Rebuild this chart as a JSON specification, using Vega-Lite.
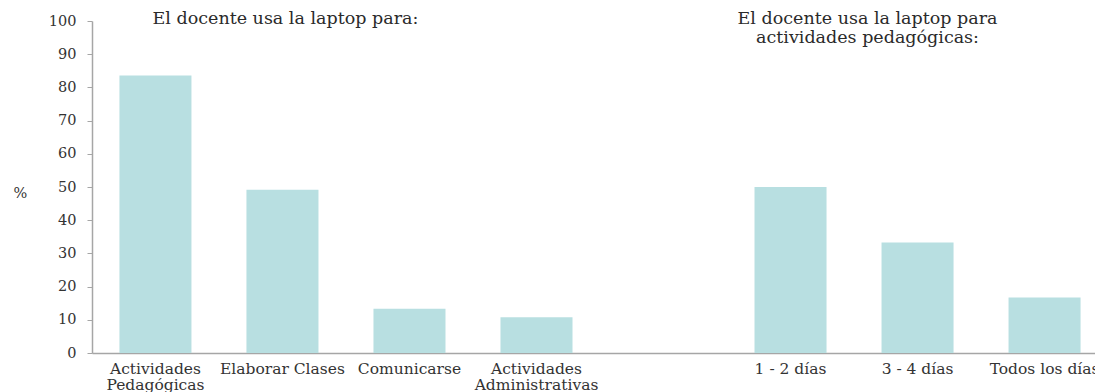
{
  "$schema": "https://vega.github.io/schema/vega-lite/v6.json",
  "width": 1003,
  "height": 332,
  "autosize": {"type": "none"},
  "padding": {"left": 92, "top": 21, "right": 0, "bottom": 39},
  "background": "white",
  "config": {
    "view": {"stroke": null},
    "font": "DejaVu Serif"
  },
  "data": {
    "values": [
      {"category": "Actividades Pedagógicas", "value": 83.6, "kind": "bar"},
      {"category": "Elaborar Clases", "value": 49.2, "kind": "bar"},
      {"category": "Comunicarse", "value": 13.3, "kind": "bar"},
      {"category": "Actividades Administrativas", "value": 10.8, "kind": "bar"},
      {"category": "1 - 2 días", "value": 50.0, "kind": "bar"},
      {"category": "3 - 4 días", "value": 33.3, "kind": "bar"},
      {"category": "Todos los días", "value": 16.7, "kind": "bar"},
      {"category": "Elaborar Clases", "value": 100, "kind": "title1", "label": "El docente usa la laptop para:"},
      {"category": "3 - 4 días", "value": 100, "kind": "title2", "label": "El docente usa la laptop para\nactividades pedagógicas:"}
    ]
  },
  "encoding": {
    "x": {
      "field": "category",
      "type": "nominal",
      "sort": null,
      "title": null,
      "scale": {
        "domain": ["Actividades Pedagógicas", "Elaborar Clases", "Comunicarse", "Actividades Administrativas", " ", "1 - 2 días", "3 - 4 días", "Todos los días"],
        "range": [0, 1016],
        "paddingInner": 0.433,
        "paddingOuter": 0.216
      },
      "axis": {
        "labelAngle": 0,
        "ticks": false,
        "domainColor": "#a6a6a6",
        "domainWidth": 1.5,
        "labelPadding": 8,
        "labelFont": "DejaVu Serif",
        "labelFontSize": 15.5,
        "labelColor": "#333333",
        "labelLineHeight": 16,
        "labelLimit": 0,
        "labelOverlap": false,
        "labelExpr": "indexof(datum.value, 'Actividades') == 0 ? split(datum.value, ' ') : datum.value"
      }
    },
    "y": {
      "field": "value",
      "type": "quantitative",
      "title": "%",
      "scale": {"domain": [0, 100], "nice": false},
      "axis": {
        "values": [0, 10, 20, 30, 40, 50, 60, 70, 80, 90, 100],
        "grid": false,
        "domainColor": "#a6a6a6",
        "domainWidth": 1.5,
        "tickColor": "#a6a6a6",
        "tickSize": 5,
        "labelPadding": 11,
        "labelFont": "DejaVu Serif",
        "labelFontSize": 14.5,
        "labelColor": "#333333",
        "titleAngle": 0,
        "titleX": -72,
        "titleY": 172,
        "titleAlign": "center",
        "titleBaseline": "middle",
        "titleFont": "DejaVu Serif",
        "titleFontSize": 14.5,
        "titleFontWeight": "normal",
        "titleColor": "#333333"
      }
    }
  },
  "layer": [
    {
      "transform": [{"filter": "datum.kind == 'bar'"}],
      "mark": {"type": "bar", "color": "#b8dfe1"}
    },
    {
      "transform": [{"filter": "datum.kind == 'title1'"}],
      "mark": {"type": "text", "font": "DejaVu Serif", "fontSize": 17.5, "color": "#2a2a2a", "baseline": "top", "align": "center", "dy": -11, "dx": 3},
      "encoding": {"text": {"field": "label"}}
    },
    {
      "transform": [{"filter": "datum.kind == 'title2'"}],
      "mark": {"type": "text", "font": "DejaVu Serif", "fontSize": 17.5, "color": "#2a2a2a", "baseline": "top", "align": "center", "dy": -11, "dx": -50, "lineBreak": "\n", "lineHeight": 19},
      "encoding": {"text": {"field": "label"}}
    }
  ]
}
